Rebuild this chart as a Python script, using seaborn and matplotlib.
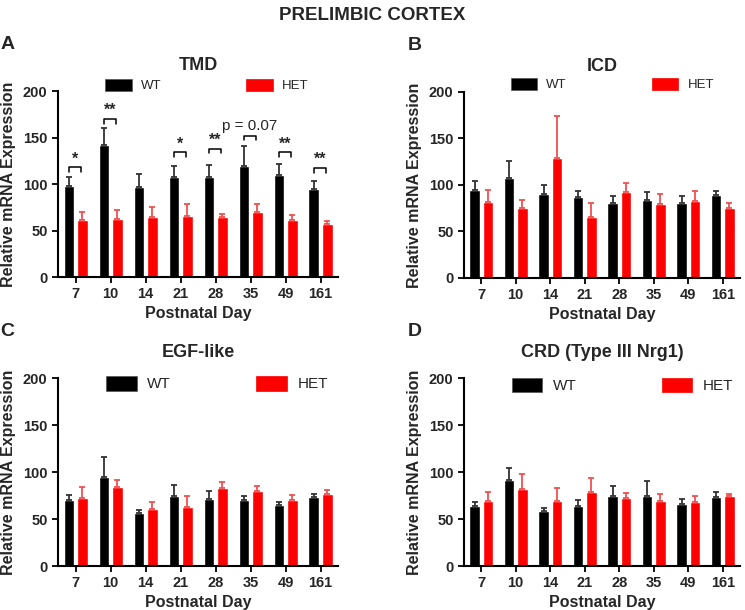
import numpy as np
import pandas as pd
import seaborn as sns
from matplotlib import pyplot as plt
from matplotlib.patches import Patch

sns.set_style('ticks')
plt.rcParams['font.family'] = ['Liberation Sans', 'DejaVu Sans']

# Postnatal days on the x axis
days = ['7', '10', '14', '21', '28', '35', '49', '161']

# TMD
tmd_wt = [98, 142, 97, 108, 108, 119, 110, 95]
tmd_wt_err = [9, 18, 14, 11, 12, 22, 11, 8]
tmd_het = [61, 62, 65, 66, 65, 70, 61, 57]
tmd_het_err = [9, 10, 10, 12, 3, 8, 6, 3]

# ICD
icd_wt = [95, 107, 90, 87, 81, 84, 81, 89]
icd_wt_err = [9, 19, 10, 7, 7, 8, 7, 5]
icd_het = [82, 75, 129, 66, 92, 80, 83, 75]
icd_het_err = [13, 9, 45, 15, 10, 10, 11, 6]

# EGF-like
egf_wt = [70, 95, 56, 74, 71, 70, 65, 73]
egf_wt_err = [6, 21, 4, 12, 9, 5, 3, 4]
egf_het = [72, 84, 61, 63, 83, 80, 70, 77]
egf_het_err = [12, 7, 7, 12, 6, 5, 6, 4]

# CRD (Type III Nrg1)
crd_wt = [64, 92, 58, 64, 74, 75, 66, 73]
crd_wt_err = [4, 12, 4, 6, 11, 15, 5, 6]
crd_het = [69, 82, 69, 79, 72, 69, 68, 74]
crd_het_err = [10, 16, 14, 15, 6, 8, 6, 3]

# significance marks for TMD
sig_days = ['7', '10', '21', '28', '35', '49', '161']
sig_labels = ['*', '**', '*', '**', 'p = 0.07', '**', '**']
sig_y = [118, 170, 134, 138, 152, 134, 117]

bar_colors = ['#000000', '#ff0000']
err_colors = ['#333333', '#f05050']


def draw_panel(ax, letter, title, wt, wt_err, het, het_err, leg_y, leg_size):
    df = pd.DataFrame({
        'day': days * 2,
        'genotype': ['WT'] * len(days) + ['HET'] * len(days),
        'value': wt + het,
    })
    sns.barplot(data=df, x='day', y='value', hue='genotype', order=days,
                hue_order=['WT', 'HET'], palette=bar_colors, saturation=1,
                width=0.78, gap=0.24, errorbar=None, legend=False, ax=ax)
    for cont, err, col in zip(ax.containers, [wt_err, het_err], err_colors):
        xs = [p.get_x() + p.get_width() / 2 for p in cont.patches]
        hs = [p.get_height() for p in cont.patches]
        ax.errorbar(xs, hs, yerr=[np.zeros(len(err)), err], fmt='none',
                    ecolor=col, elinewidth=1.3, capsize=2, capthick=1.3)
    ax.set_ylim(0, 200)
    ax.set_xlim(-0.5, len(days) - 0.5)
    ax.set_yticks([0, 50, 100, 150, 200])
    ax.set_xlabel('Postnatal Day', fontsize=11.5, fontweight='bold', labelpad=3)
    ax.set_ylabel('Relative mRNA Expression', fontsize=11.5, fontweight='bold', labelpad=5)
    ax.set_title(title, fontsize=13, fontweight='bold', pad=15)
    ax.tick_params(axis='both', labelsize=10.5, width=1.3, length=4, color='black')
    for lab in ax.get_xticklabels() + ax.get_yticklabels():
        lab.set_fontweight('bold')
    for s in ['left', 'bottom']:
        ax.spines[s].set_linewidth(1.5)
        ax.spines[s].set_color('black')
    sns.despine(ax=ax)
    handles = [Patch(facecolor=c, edgecolor='#555555' if c == '#000000' else c, linewidth=0.5)
               for c in bar_colors]
    # gap between "WT" and the HET patch is about 85 px in the reference
    colsp = 85 / (leg_size * 100 / 72)
    ax.legend(handles, ['WT', 'HET'], ncol=2, frameon=False, fontsize=leg_size,
              loc='center left', bbox_to_anchor=(0.15, leg_y), handlelength=2.0,
              handleheight=1.1, columnspacing=colsp, handletextpad=0.7, borderaxespad=0)
    ax.text(-0.205, 1.25, letter, transform=ax.transAxes, fontsize=14,
            fontweight='bold', ha='left', va='center')


fig = plt.figure(figsize=(7.45, 6.1), dpi=100)
axA = fig.add_axes([0.0779, 0.5459, 0.3758, 0.3049])
axB = fig.add_axes([0.6228, 0.5443, 0.3705, 0.3049])
axC = fig.add_axes([0.0779, 0.0721, 0.3758, 0.3082])
axD = fig.add_axes([0.6228, 0.0721, 0.3705, 0.3082])

draw_panel(axA, 'A', 'TMD', tmd_wt, tmd_wt_err, tmd_het, tmd_het_err, 1.03, 9.5)
draw_panel(axB, 'B', 'ICD', icd_wt, icd_wt_err, icd_het, icd_het_err, 1.04, 9.5)
draw_panel(axC, 'C', 'EGF-like', egf_wt, egf_wt_err, egf_het, egf_het_err, 0.97, 11)
draw_panel(axD, 'D', 'CRD (Type III Nrg1)', crd_wt, crd_wt_err, crd_het, crd_het_err, 0.96, 11)

# brackets and asterisks on TMD
wt_bars = axA.containers[0].patches
het_bars = axA.containers[1].patches
for d, lab, yb in zip(sig_days, sig_labels, sig_y):
    i = days.index(d)
    x0 = wt_bars[i].get_x() + wt_bars[i].get_width() / 2
    x1 = het_bars[i].get_x() + het_bars[i].get_width() / 2 - 0.04
    axA.plot([x0, x0, x1, x1], [yb - 5, yb, yb, yb - 5], color='black', lw=1.1)
    if lab.startswith('p'):
        axA.text((x0 + x1) / 2, yb + 3, lab, ha='center', va='bottom', fontsize=11)
    else:
        axA.text((x0 + x1) / 2, yb + 1, lab, ha='center', va='bottom',
                 fontsize=11.5, fontweight='bold')

fig.text(0.5, 0.974, 'PRELIMBIC CORTEX', ha='center', va='center',
         fontsize=13.5, fontweight='bold')

fig.savefig('out.png', dpi=100)
